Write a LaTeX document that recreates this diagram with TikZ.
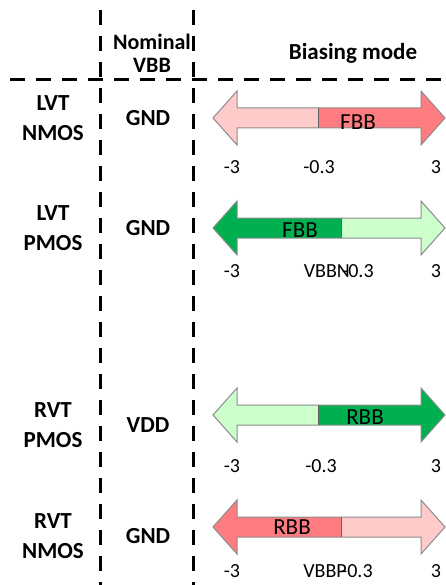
\documentclass[tikz,border=0pt]{standalone}
\usepackage{fontspec}
\setmainfont{Carlito}
\usetikzlibrary{positioning}

\definecolor{fbbred}{HTML}{FF7C80}
\definecolor{lightred}{HTML}{FFCACA}
\definecolor{rbbgreen}{HTML}{00B050}
\definecolor{lightgreen}{HTML}{CCFFCC}
\definecolor{edgegray}{HTML}{8C8C8C}

% double arrow: axis y, split x, left fill, right fill
\newcommand{\biasarrow}[4]{%
  \fill[#3] (213,#1) -- (237,{#1-27}) -- (237,{#1-10}) -- (#2,{#1-10})
    -- (#2,{#1+10}) -- (237,{#1+10}) -- (237,{#1+27}) -- cycle;
  \fill[#4] (445,#1) -- (421,{#1-27}) -- (421,{#1-10}) -- (#2,{#1-10})
    -- (#2,{#1+10}) -- (421,{#1+10}) -- (421,{#1+27}) -- cycle;
  \draw[edgegray, line width=1pt] (213,#1) -- (237,{#1-27}) -- (237,{#1-10})
    -- (421,{#1-10}) -- (421,{#1-27}) -- (445,#1) -- (421,{#1+27})
    -- (421,{#1+10}) -- (237,{#1+10}) -- (237,{#1+27}) -- cycle;
  \draw[edgegray!70!black, line width=1pt] (#2,{#1-10}) -- (#2,{#1+10});
}

\begin{document}
\begin{tikzpicture}
	[x=1pt, y=-1pt, on grid, node distance=95pt,
	 grid/.style={line width=3pt, dash pattern=on 15pt off 11pt},
	 rowname/.style={font=\fontsize{23}{30}\selectfont\bfseries, align=center, inner sep=0pt},
	 vbb/.style={font=\fontsize{23}{24}\selectfont\bfseries, inner sep=0pt},
	 tick/.style={font=\fontsize{20}{24}\selectfont, inner sep=0pt},
	 mode/.style={font=\fontsize{23}{24}\selectfont, inner sep=0pt}]
   \useasboundingbox (0,0) rectangle (445,585);

   % table lines
   \draw[grid] (100,10) -- (100,585);
   \draw[grid] (193,10) -- (193,585);
   \draw[grid] (10,80) -- (445,80);

   % header
   \node[vbb, align=center, font=\fontsize{22}{23}\selectfont\bfseries] (nominal) at (152,53) {Nominal\\VBB};
   \node[vbb] (biasing) at (353,53) {Biasing mode};

   % rows
   \node[rowname] (lvtn) at (53,118) {LVT\\NMOS};
   \node[vbb] (vbb1) [right=of lvtn] {GND};
   \node[rowname] (lvtp) at (53,228) {LVT\\PMOS};
   \node[vbb] (vbb2) [right=of lvtp] {GND};
   \node[rowname] (rvtp) at (53,425) {RVT\\PMOS};
   \node[vbb] (vbb3) [right=of rvtp] {VDD};
   \node[rowname] (rvtn) at (53,536) {RVT\\NMOS};
   \node[vbb] (vbb4) [right=of rvtn] {GND};

   % arrows
   \biasarrow{118}{318}{lightred}{fbbred}
   \biasarrow{228}{341}{rbbgreen}{lightgreen}
   \biasarrow{415}{318}{lightgreen}{rbbgreen}
   \biasarrow{527}{341}{fbbred}{lightred}

   \node[mode] (fbb1) at (358,122) {FBB};
   \node[mode] (fbb2) at (300,230) {FBB};
   \node[mode] (rbb3) at (365,417) {RBB};
   \node[mode] (rbb4) at (292,527) {RBB};

   % scale values
   \node[tick] (min1) at (232,167) {-3};
   \node[tick] (mid1) at (319,167) {-0.3};
   \node[tick] (max1) at (436,167) {3};
   \node[tick] (min2) at (232,271) {-3};
   \node[tick, anchor=east] (mid2) at (350,271) {VBBN};
   \node[tick, anchor=west] (off2) at (342,271) {-0.3};
   \node[tick] (max2) at (436,271) {3};
   \node[tick] (min3) at (232,466) {-3};
   \node[tick] (mid3) at (321,466) {-0.3};
   \node[tick] (max3) at (436,466) {3};
   \node[tick] (min4) at (232,571) {-3};
   \node[tick, anchor=east] (mid4) at (347,571) {VBBP};
   \node[tick, anchor=west] (off4) at (341,571) {-0.3};
   \node[tick] (max4) at (436,571) {3};
\end{tikzpicture}
\end{document}
